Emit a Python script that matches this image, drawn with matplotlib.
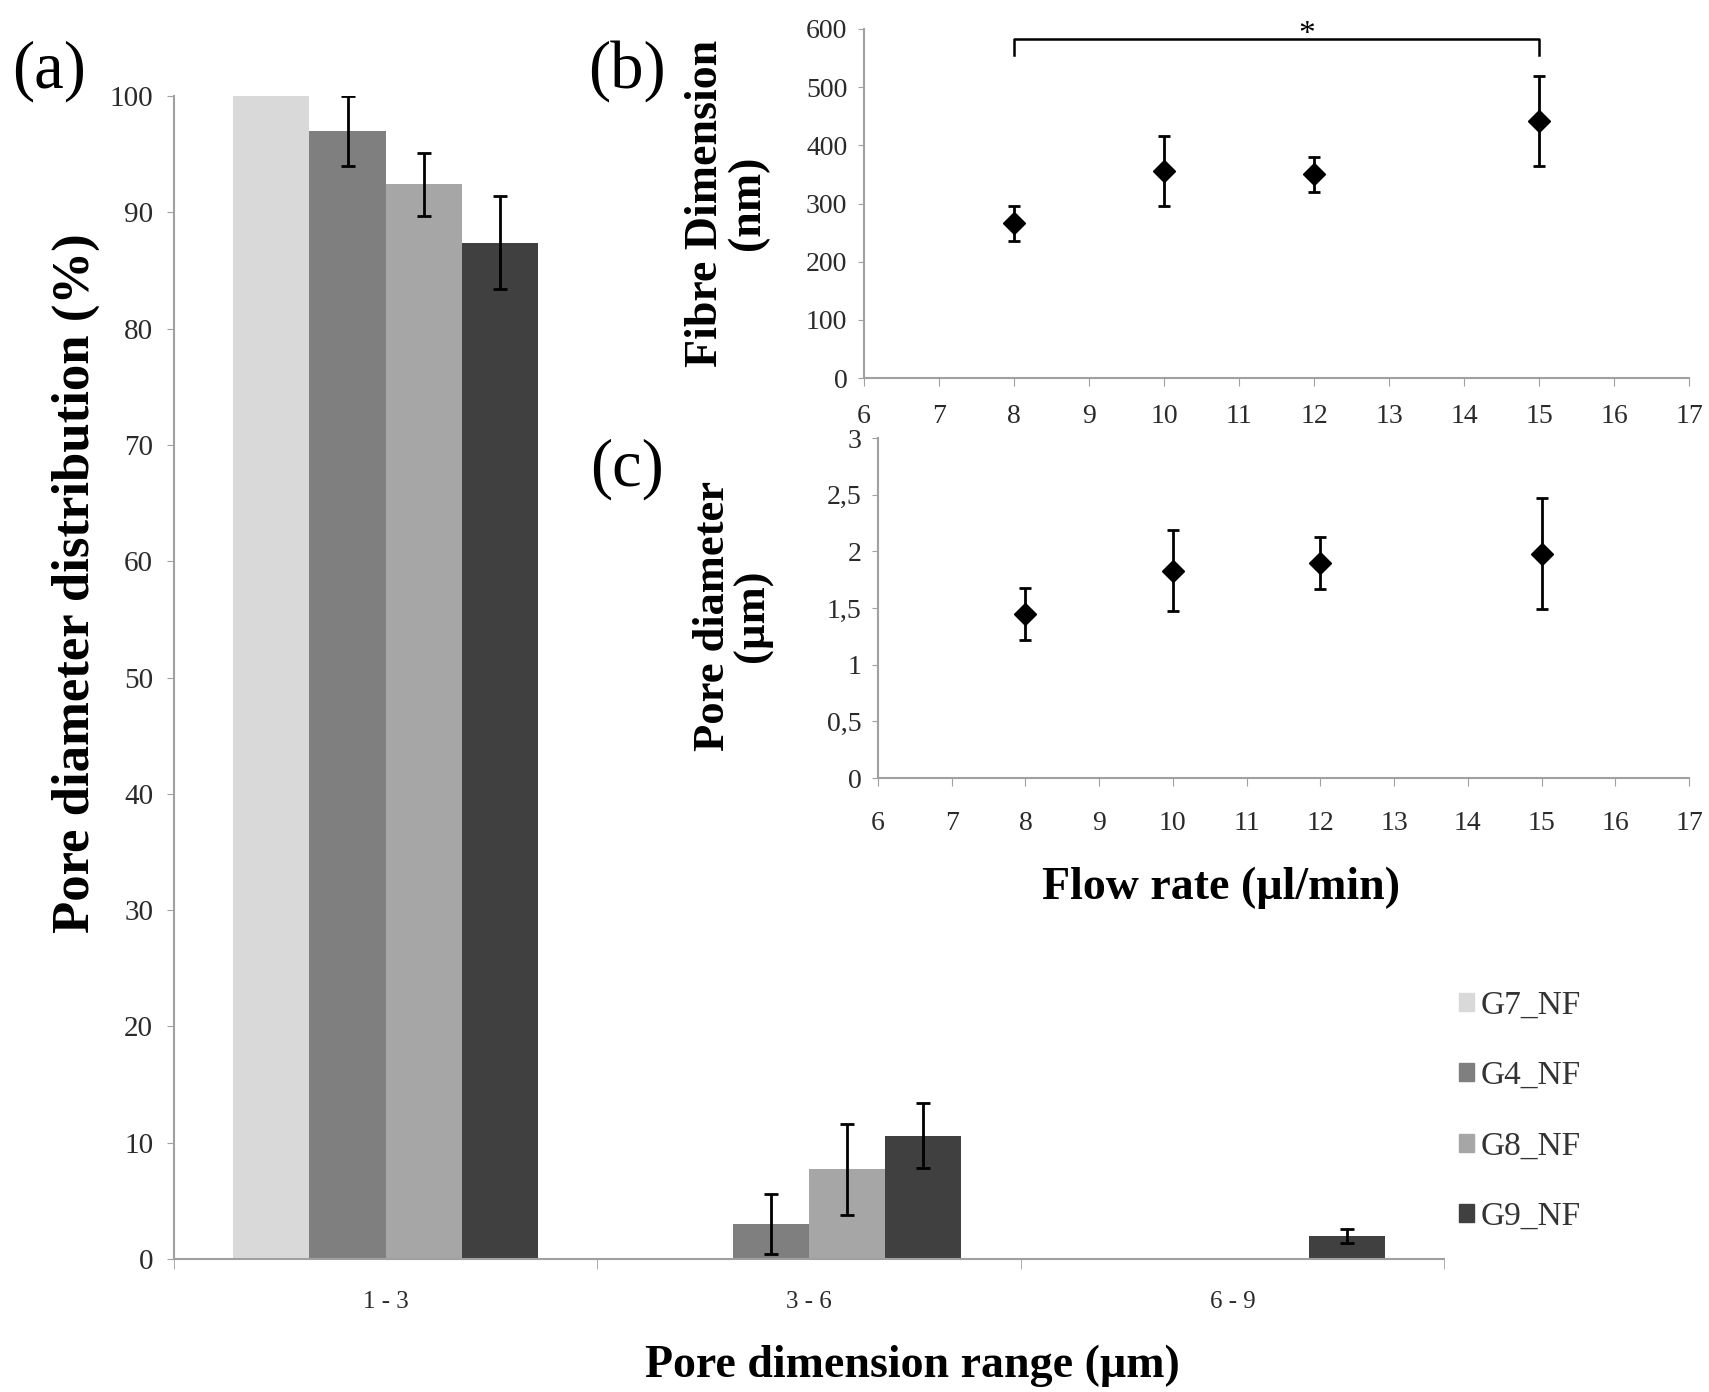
import matplotlib
matplotlib.use("Agg")
import matplotlib.pyplot as plt
import numpy as np

plt.rcParams['font.family'] = ['Liberation Serif', 'DejaVu Serif']

# ---- data panel (a)
categories = ["1 - 3", "3 - 6", "6 - 9"]
groups = ["G7_NF", "G4_NF", "G8_NF", "G9_NF"]
colors = ["#d9d9d9", "#7f7f7f", "#a6a6a6", "#404040"]
g7_vals = [100.0, 0.0, 0.0]
g7_errs = [0.0, 0.0, 0.0]
g4_vals = [97.0, 3.0, 0.0]
g4_errs = [3.0, 2.6, 0.0]
g8_vals = [92.4, 7.7, 0.0]
g8_errs = [2.7, 3.9, 0.0]
g9_vals = [87.4, 10.6, 2.0]
g9_errs = [4.0, 2.8, 0.6]

# ---- data panel (b), (c)
flow_rate = [8, 10, 12, 15]
fibre_dim = [266, 356, 350, 442]
fibre_err = [30, 60, 30, 78]
pore_diam = [1.45, 1.83, 1.90, 1.98]
pore_err = [0.23, 0.36, 0.23, 0.49]

W, H = 1709, 1392
fig = plt.figure(figsize=(W / 100, H / 100), dpi=100)

def frac(x0, y0, x1, y1):
    return [x0 / W, 1 - y1 / H, (x1 - x0) / W, (y1 - y0) / H]

axis_gray = "#a0a0a0"
tick_col = "#2a2a2a"

# ---------------- panel (a)
axa = fig.add_axes(frac(174, 96, 1444, 1259))
vals = [g7_vals, g4_vals, g8_vals, g9_vals]
errs = [g7_errs, g4_errs, g8_errs, g9_errs]
x = np.arange(len(categories))
bw = 0.18
for i, (v, e, c, lab) in enumerate(zip(vals, errs, colors, groups)):
    pos = x + (i - 1.5) * bw
    axa.bar(pos, v, width=bw, color=c, label=lab, zorder=2)
    ev = np.array(e)
    mask = ev > 0
    if mask.any():
        axa.errorbar(pos[mask], np.array(v)[mask], yerr=ev[mask], fmt="none",
                     ecolor="black", elinewidth=2, capsize=5, capthick=2, zorder=3)
axa.set_xlim(-0.5, 2.5)
axa.set_ylim(0, 100)
axa.set_yticks(np.arange(0, 101, 10))
axa.set_xticks(x)
axa.set_xticklabels(categories)
axa.set_xticks([-0.5, 0.5, 1.5, 2.5], minor=True)
axa.tick_params(axis="x", which="major", length=0, pad=23, labelsize=18, labelcolor=tick_col)
axa.tick_params(axis="x", which="minor", length=7, color=axis_gray, direction="out")
axa.tick_params(axis="y", length=5, color=axis_gray, labelsize=21, labelcolor=tick_col, pad=10)
for s in ["top", "right"]:
    axa.spines[s].set_visible(False)
for s in ["left", "bottom"]:
    axa.spines[s].set_color(axis_gray)
    axa.spines[s].set_linewidth(1.5)
axa.set_facecolor("none")
fig.text(76 / W, 1 - 583 / H, "Pore diameter distribution (%)", fontsize=38,
         fontweight="bold", rotation=90, ha="center", va="center")
fig.text(912 / W, 1 - 1366 / H, "Pore dimension range (µm)", fontsize=33,
         fontweight="bold", ha="center", va="center")

handles = [plt.Rectangle((0, 0), 1, 1, color=c) for c in colors]
fig.legend(handles, groups, loc="upper left", bbox_to_anchor=(1429 / W, 1 - 960 / H),
           frameon=False, fontsize=24, handlelength=0.45, handleheight=0.45,
           handletextpad=0.2, labelspacing=1.2, labelcolor="#333333")

# ---------------- panel (b)
axb = fig.add_axes(frac(864, 29, 1689, 378))
axb.errorbar(flow_rate, fibre_dim, yerr=fibre_err, fmt="D", color="black",
             markersize=11, elinewidth=2, capsize=4, capthick=2)
axb.set_xlim(6, 17)
axb.set_ylim(0, 600)
axb.set_xticks(range(6, 18))
axb.set_yticks(range(0, 601, 100))
fig.text(727 / W, 1 - 203 / H, "Fibre Dimension\n(nm)", fontsize=33, fontweight="bold",
         rotation=90, ha="center", va="center", linespacing=1.0, multialignment="center")

# significance bracket
bar_y = 582
drop_y = 555
axb.plot([8, 8, 15, 15], [drop_y, bar_y, bar_y, drop_y], color="black", lw=1.8, clip_on=False)
axb.text(11.9, 590, "*", ha="center", va="center", fontsize=24)

# ---------------- panel (c)
axc = fig.add_axes(frac(878, 438, 1689, 778))
axc.errorbar(flow_rate, pore_diam, yerr=pore_err, fmt="D", color="black",
             markersize=11, elinewidth=2, capsize=4, capthick=2)
axc.set_xlim(6, 17)
axc.set_ylim(0, 3)
axc.set_xticks(range(6, 18))
axc.set_yticks([0, 0.5, 1, 1.5, 2, 2.5, 3])
axc.set_yticklabels(["0", "0,5", "1", "1,5", "2", "2,5", "3"])
fig.text(733 / W, 1 - 616 / H, "Pore diameter\n(µm)", fontsize=32, fontweight="bold",
         rotation=90, ha="center", va="center", linespacing=1.0, multialignment="center")
fig.text(1221 / W, 1 - 888 / H, "Flow rate (µl/min)", fontsize=33, fontweight="bold",
         ha="center", va="center")

for ax, xpad in ((axb, 13), (axc, 18)):
    ax.set_facecolor("none")
    for s in ["top", "right"]:
        ax.spines[s].set_visible(False)
    for s in ["left", "bottom"]:
        ax.spines[s].set_color(axis_gray)
        ax.spines[s].set_linewidth(1.5)
    ax.tick_params(axis="x", length=6, color=axis_gray, labelsize=20, labelcolor=tick_col, pad=xpad)
    ax.tick_params(axis="y", length=4, color=axis_gray, labelsize=20, labelcolor=tick_col, pad=8)

# panel letters
fig.text(49 / W, 1 - 71 / H, "(a)", fontsize=48, ha="center", va="center")
fig.text(627 / W, 1 - 71 / H, "(b)", fontsize=48, ha="center", va="center")
fig.text(627 / W, 1 - 469 / H, "(c)", fontsize=48, ha="center", va="center")

fig.savefig("out.png", dpi=100, facecolor="white")
